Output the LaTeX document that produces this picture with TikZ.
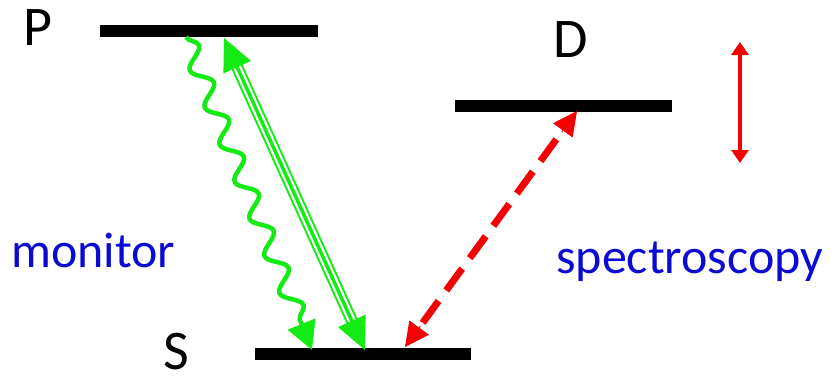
\documentclass[tikz,border=0pt]{standalone}
\usepackage{fontspec}
\setmainfont{Carlito}
\usetikzlibrary{arrows.meta,decorations.pathmorphing,calc}
\definecolor{lgreen}{RGB}{20,235,20}
\definecolor{tblue}{RGB}{10,10,210}
\definecolor{lred}{RGB}{245,0,0}
\tikzset{
  level/.style={fill=black, inner sep=0pt, minimum height=12pt},
  lbl/.style={anchor=base west, inner sep=0pt, font=\fontsize{56}{60}\selectfont},
  note/.style={anchor=base west, inner sep=0pt, text=tblue, font=\fontsize{50}{54}\selectfont},
  gtip/.style={lgreen, line width=1pt, -{Triangle[length=32pt,width=30pt]}},
  rtip/.style={lred, line width=1pt, -{Triangle[length=24pt,width=24pt]}},
}
\begin{document}
\begin{tikzpicture}[x=1pt,y=-1pt]
\useasboundingbox (0,0) rectangle (838,378);
% levels
\node[level, minimum width=218pt] (P) at (209,31) {};
\node[level, minimum width=217pt] (D) at (563.5,106) {};
\node[level, minimum width=216pt] (S) at (363,354) {};
% labels
\node[lbl] (Pl) at (23,45) {P};
\node[lbl] (Dl) at (553,57) {D};
\node[lbl] (Sl) at (163,369) {S};
\node[note] (mon) at (11,267) {monitor};
\node[note] (spec) at (556,273) {spectroscopy};
% coordinates
\coordinate (w1) at (186,37);
\coordinate (w2) at (312,350);
\coordinate (g1) at (224,38);
\coordinate (g2) at (365,350);
\coordinate (r1) at (405,347);
\coordinate (r2) at (577,111);
\coordinate (v1) at (740,42);
\coordinate (v2) at (740,163);
% wavy emission
\draw[lgreen, line width=4.5pt, line join=round,
  decoration={snake, segment length=40pt, amplitude=9pt, post length=32pt},
  decorate, -{Triangle[length=28pt,width=29pt]}] (w1) -- (w2);
% green pump (triple line)
\draw[lgreen, line width=12pt, shorten <=27pt, shorten >=27pt] (g1) -- (g2);
\draw[white, line width=8pt, shorten <=26pt, shorten >=26pt] (g1) -- (g2);
\draw[lgreen, line width=3.5pt, shorten <=26pt, shorten >=26pt] (g1) -- (g2);
\draw[gtip] ($(g1)!34pt!(g2)$) -- (g1);
\draw[gtip] ($(g2)!34pt!(g1)$) -- (g2);
% red dashed
\draw[lred, line width=7pt, dash pattern=on 27pt off 13pt, shorten <=30pt, shorten >=20pt] (r1) -- (r2);
\draw[rtip] ($(r1)!26pt!(r2)$) -- (r1);
\draw[rtip] ($(r2)!26pt!(r1)$) -- (r2);
% vertical red
\draw[lred, line width=4.5pt, {Triangle[length=13pt,width=17pt]}-{Triangle[length=13pt,width=17pt]}] (v1) -- (v2);
\end{tikzpicture}
\end{document}
